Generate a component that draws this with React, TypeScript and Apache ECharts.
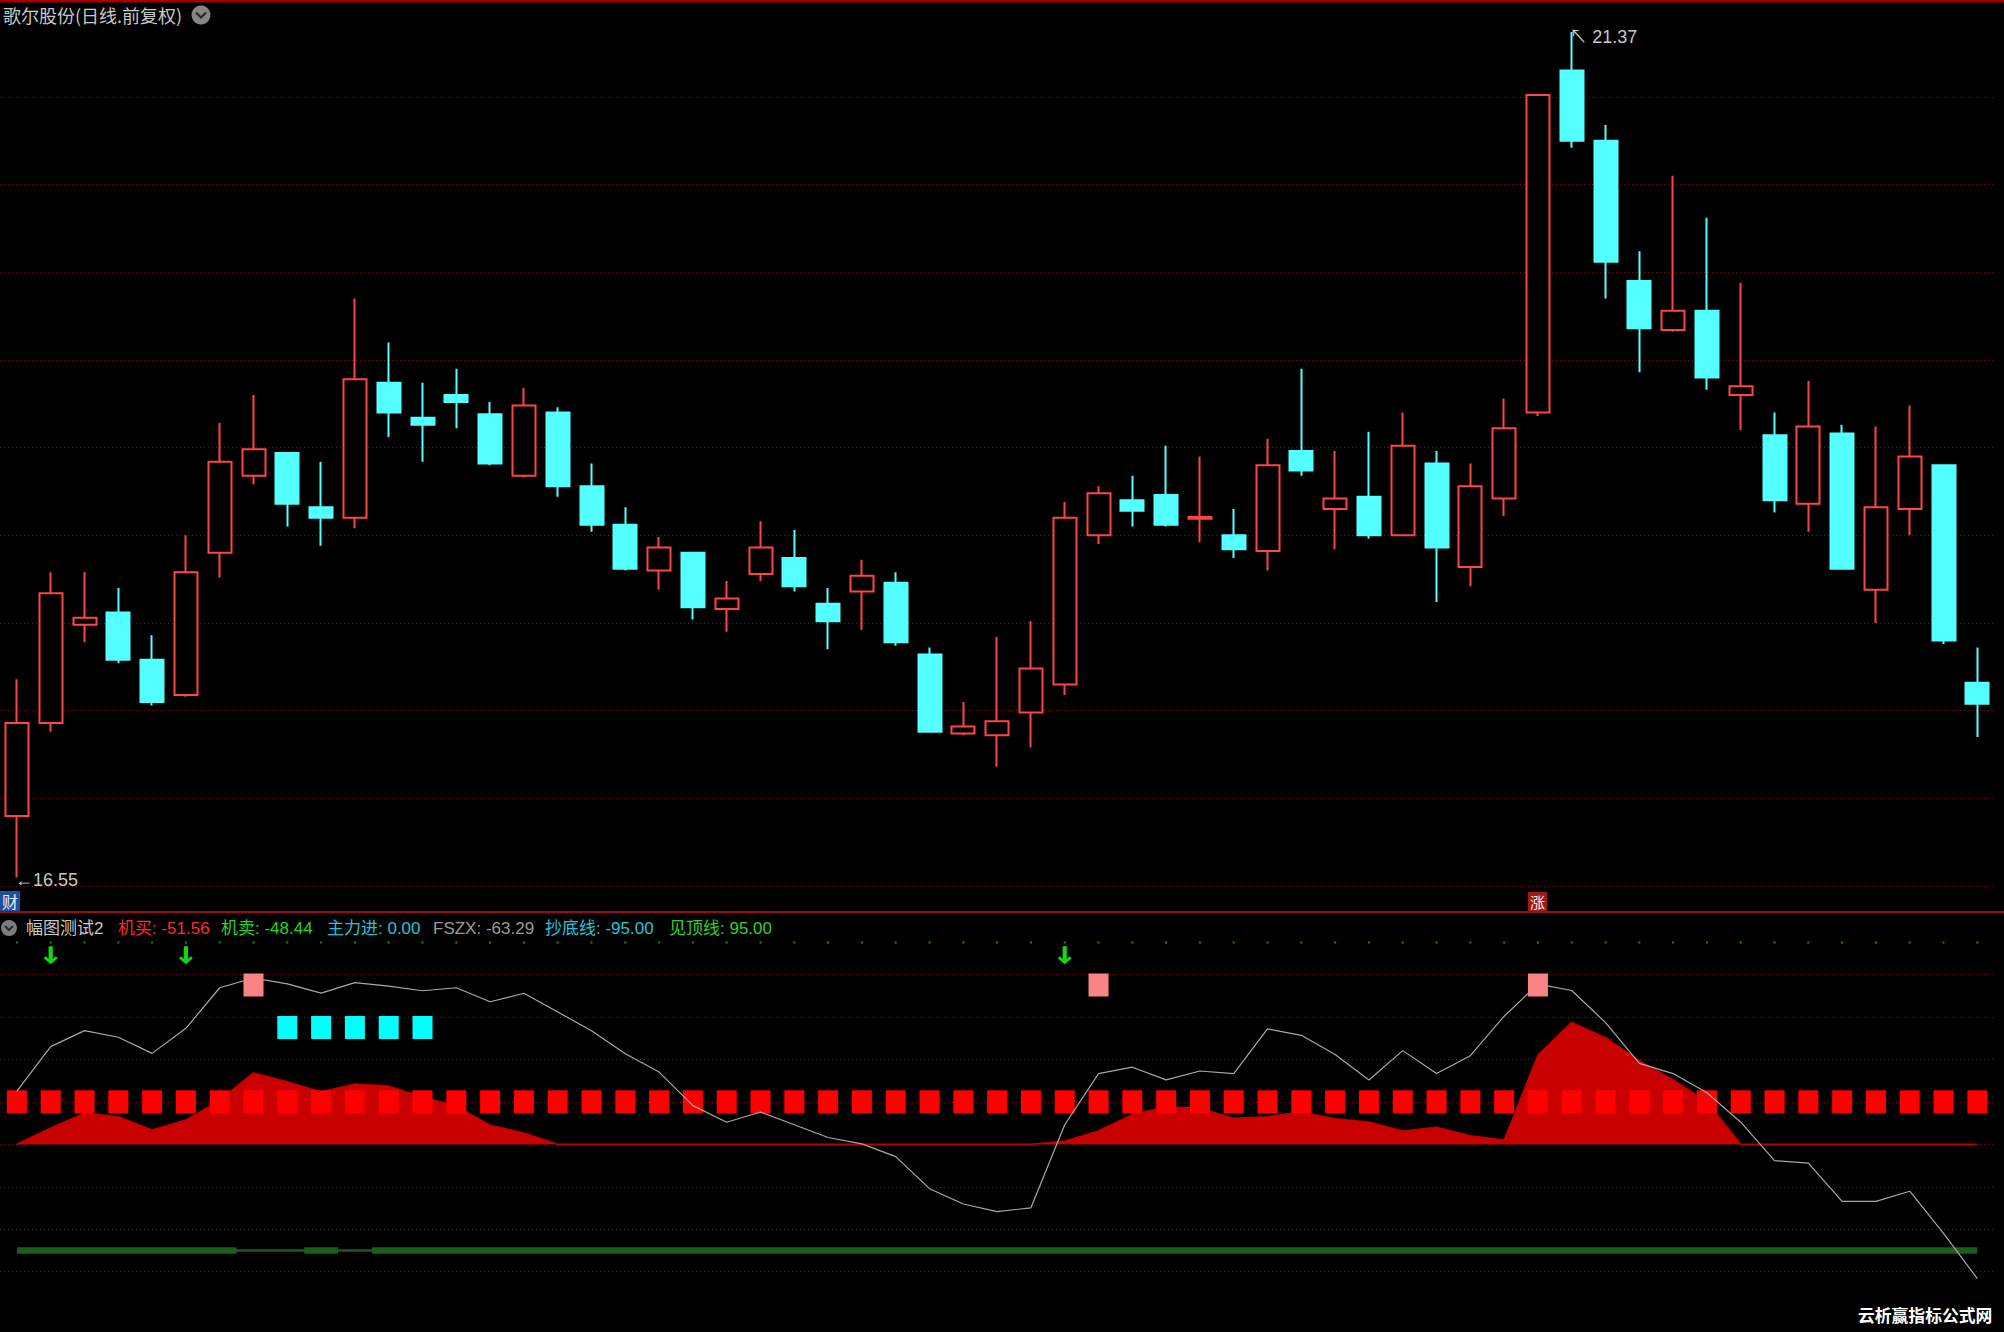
import React, { useEffect, useRef } from "react";
import * as echarts from "echarts";

// ---------- DATA ----------
const categories = Array.from({ length: 59 }, (_, i) => `D${i + 1}`);

// [open, close, low, high]
const opens = [16.90,17.43,17.99,18.06,17.79,17.59,18.40,18.84,18.97,18.66,18.60,19.37,19.17,19.30,19.19,18.84,19.20,18.78,18.56,18.30,18.40,18.08,18.28,18.37,18.11,18.18,18.23,17.82,17.37,17.36,17.49,17.65,18.50,18.70,18.73,18.595,18.50,18.41,18.98,18.65,18.72,18.50,18.91,18.32,18.71,19.20,21.15,20.75,19.95,19.67,19.78,19.30,19.07,18.68,19.08,18.19,18.65,18.90,17.66];
const closes = [17.43,18.17,18.03,17.79,17.55,18.29,18.92,18.99,18.68,18.60,19.39,19.20,19.13,19.26,18.91,19.24,18.78,18.56,18.31,18.43,18.09,18.14,18.43,18.21,18.01,18.27,17.89,17.38,17.41,17.44,17.74,18.60,18.74,18.64,18.56,18.605,18.42,18.90,18.87,18.71,18.50,19.01,18.43,18.78,19.11,21.01,20.75,20.06,19.68,19.78,19.40,19.35,18.70,19.12,18.31,18.66,18.95,17.90,17.54];
const lows = [16.55,17.38,17.89,17.77,17.53,17.58,18.26,18.79,18.55,18.44,18.54,19.06,18.92,19.11,18.90,18.83,18.72,18.52,18.30,18.19,18.02,17.95,18.24,18.18,17.85,17.96,17.87,17.38,17.36,17.18,17.29,17.59,18.45,18.55,18.55,18.46,18.37,18.30,18.84,18.42,18.48,18.50,18.12,18.21,18.61,19.18,20.71,19.85,19.43,19.66,19.33,19.10,18.63,18.52,18.31,18.00,18.50,17.88,17.35];
const highs = [17.68,18.29,18.29,18.20,17.93,18.50,19.14,19.30,18.97,18.92,19.85,19.60,19.37,19.45,19.26,19.34,19.23,18.91,18.66,18.49,18.40,18.24,18.58,18.53,18.20,18.36,18.29,17.86,17.55,17.92,18.01,18.69,18.78,18.84,19.01,18.95,18.65,19.05,19.45,18.98,19.09,19.20,18.98,18.91,19.28,21.01,21.37,20.84,20.12,20.55,20.31,19.94,19.20,19.38,19.13,19.12,19.24,18.90,17.86];

const priceTicks = { min: 16.5, max: 21.45, step: 0.5 };
const lowLabel = "←16.55";
const highLabel = "↖ 21.37";

// sub-panel indicator
const fszx = [25,46,53.5,50.4,42.8,54.6,73.7,78.3,75.5,71.2,76.1,74.5,72.3,73.7,67.1,71.1,62.3,53.5,42.6,34,18.2,10.4,15.2,9.2,3.2,0.2,-5.8,-20.9,-28.1,-31.7,-29.9,9.2,33.3,36.3,30.3,34.5,33.3,54.3,51.3,42.3,30.3,44.1,33.3,41.7,60.3,75.4,72.4,57.3,38.1,33.3,24.3,10.4,-7.7,-8.9,-26.9,-26.9,-22.1,-41.9,-63.29];
const mainIn = [0,7.7,14.7,13,6.7,11.4,20.8,33.6,29.5,24.6,28.4,27.4,22.3,18,9,5.3,0,0,0,0,0,0,0,0,0,0,0,0,0,0,0,1.4,6.3,14,17.7,17,12.3,13,15.2,12,10.5,6.3,8,4,2,42,57.4,50.2,39.4,30.3,20.1,0,0,0,0,0,0,0,0];
const machineBuy = [-51.56,-51.56,-51.56,-51.56,-51.56,-51.56,-51.56,-50.6,-50.6,-51.56,-50.6,-51.56,-51.56,-51.56,-51.56,-51.56,-51.56,-51.56,-51.56,-51.56,-51.56,-51.56,-51.56,-51.56,-51.56,-51.56,-51.56,-51.56,-51.56,-51.56,-51.56,-51.56,-51.56,-51.56,-51.56,-51.56,-51.56,-51.56,-51.56,-51.56,-51.56,-51.56,-51.56,-51.56,-51.56,-51.56,-51.56,-51.56,-51.56,-51.56,-51.56,-51.56,-51.56,-51.56,-51.56,-51.56,-51.56,-51.56,-51.56];
const machineSell = [-48.44,-48.44,-48.44,-48.44,-48.44,-48.44,-48.44,-49.4,-49.4,-48.44,-49.4,-48.44,-48.44,-48.44,-48.44,-48.44,-48.44,-48.44,-48.44,-48.44,-48.44,-48.44,-48.44,-48.44,-48.44,-48.44,-48.44,-48.44,-48.44,-48.44,-48.44,-48.44,-48.44,-48.44,-48.44,-48.44,-48.44,-48.44,-48.44,-48.44,-48.44,-48.44,-48.44,-48.44,-48.44,-48.44,-48.44,-48.44,-48.44,-48.44,-48.44,-48.44,-48.44,-48.44,-48.44,-48.44,-48.44,-48.44,-48.44];
const redLevel = 20;
const topLine = 95;
const pinkIdx = [7, 32, 45];
const pinkLevel = 75;
const cyanIdx = [8, 9, 10, 11, 12];
const cyanLevel = 55;
const arrowIdx = [1, 5, 31];
const arrowLevel = 89;
const subTicks = { min: -80, max: 100, step: 20 };

const title = "歌尔股份(日线.前复权)";
const subHeader = [
  { t: "幅图测试2", c: "#c8c8c8" },
  { t: "机买: -51.56", c: "#ff2a2a" },
  { t: "机卖: -48.44", c: "#2ad42a" },
  { t: "主力进: 0.00", c: "#22c4dc" },
  { t: "FSZX: -63.29", c: "#9a9a9a" },
  { t: "抄底线: -95.00", c: "#22c4dc" },
  { t: "见顶线: 95.00", c: "#2ad42a" },
];
const subHeaderX = [26, 118, 221, 327, 433, 545, 669];
const watermark = "云析赢指标公式网";

const FONT = '"Liberation Sans", "Noto Sans CJK SC", sans-serif';
const CJK = '"Noto Sans CJK SC", "Liberation Sans", sans-serif';

export default function App() {
  const ref = useRef<HTMLDivElement>(null);
  useEffect(() => {
    document.body.style.margin = "0";
    document.body.style.background = "#000";
    const chart = echarts.init(ref.current!, undefined, { renderer: "svg" });
    const candle = opens.map((o, i) => [o, closes[i], lows[i], highs[i]]);
    const bandDiff = machineSell.map((s, i) => +(s - machineBuy[i]).toFixed(2));
    const mark = (idx: number[], v: number) => categories.map((_, i) => (idx.includes(i) ? v : "-"));
    const gridLine = { color: "#7a1a1a", type: [1, 3] as any, width: 1 };
    const axisOff = { axisLine: { show: false }, axisTick: { show: false }, axisLabel: { show: false } };
    const hideText = { show: false };

    const option: any = {
      animation: false,
      backgroundColor: "#000",
      grid: [
        { left: -2.9, width: 1997.15, top: 17.9, height: 868.2 },
        { left: -2.9, width: 1997.15, top: 931.9, height: 382.3 },
      ],
      xAxis: [
        { type: "category", gridIndex: 0, data: categories, boundaryGap: true, ...axisOff, splitLine: hideText },
        { type: "category", gridIndex: 1, data: categories, boundaryGap: true, ...axisOff, splitLine: hideText },
      ],
      yAxis: [
        {
          type: "value", gridIndex: 0, min: priceTicks.min, max: priceTicks.max, interval: priceTicks.step, ...axisOff,
          splitLine: { show: true, showMaxLine: false, lineStyle: gridLine },
        },
        {
          type: "value", gridIndex: 1, min: subTicks.min, max: subTicks.max, interval: subTicks.step, ...axisOff,
          splitLine: { show: true, showMinLine: false, showMaxLine: false, lineStyle: gridLine },
        },
      ],
      series: [
        {
          type: "candlestick", xAxisIndex: 0, yAxisIndex: 0, data: candle, barWidth: 23.5,
          itemStyle: { color: "#000", color0: "#54ffff", borderColor: "#ff4545", borderColor0: "#54ffff", borderWidth: 2 },
          markPoint: {
            symbol: "circle", symbolSize: 1, itemStyle: { color: "rgba(0,0,0,0)" },
            data: [
              {
                coord: [categories[0], lows[0]],
                label: { show: true, formatter: lowLabel, position: [-1.5, 3], align: "left", verticalAlign: "middle", color: "#c8c8c8", fontSize: 18, fontFamily: FONT },
              },
              {
                coord: [categories[46], highs[46]],
                label: { show: true, formatter: highLabel, position: [-2, -3], align: "left", verticalAlign: "top", color: "#c8c8c8", fontSize: 18, fontFamily: FONT },
              },
            ],
          },
        },
        {
          type: "line", xAxisIndex: 1, yAxisIndex: 1, data: machineBuy, stack: "band", stackStrategy: "all", step: "middle", symbol: "none",
          lineStyle: { width: 0, opacity: 0 }, z: 2,
        },
        {
          type: "line", xAxisIndex: 1, yAxisIndex: 1, data: bandDiff, stack: "band", stackStrategy: "all", step: "middle", symbol: "none",
          lineStyle: { width: 0, opacity: 0 }, areaStyle: { color: "#1b5e1b", opacity: 1 }, z: 2,
        },
        {
          type: "line", xAxisIndex: 1, yAxisIndex: 1, data: mainIn, symbol: "none",
          lineStyle: { color: "#c00000", width: 1.5 }, areaStyle: { color: "#c80000", opacity: 1 }, z: 3,
        },
        {
          type: "scatter", xAxisIndex: 1, yAxisIndex: 1, data: categories.map(() => redLevel), symbol: "rect",
          symbolSize: [20, 23], itemStyle: { color: "#ff0000", opacity: 1 }, z: 4,
        },
        {
          type: "scatter", xAxisIndex: 1, yAxisIndex: 1, data: categories.map(() => topLine), symbol: "rect",
          symbolSize: [2, 2], itemStyle: { color: "#1e8a1e", opacity: 1 }, z: 4,
        },
        {
          type: "line", xAxisIndex: 1, yAxisIndex: 1, data: fszx, symbol: "none",
          lineStyle: { color: "#a8a8a8", width: 1.2 }, z: 5,
        },
        {
          type: "scatter", xAxisIndex: 1, yAxisIndex: 1, data: mark(pinkIdx, pinkLevel), symbol: "rect",
          symbolSize: [20, 23], itemStyle: { color: "#fa8484", opacity: 1 }, z: 6,
        },
        {
          type: "scatter", xAxisIndex: 1, yAxisIndex: 1, data: mark(cyanIdx, cyanLevel), symbol: "rect",
          symbolSize: [20, 23], itemStyle: { color: "#00ffff", opacity: 1 }, z: 6,
        },
        {
          type: "scatter", xAxisIndex: 1, yAxisIndex: 1, data: mark(arrowIdx, arrowLevel),
          symbol: "path://M3.5,0H6.5V11.5L8.6,9.2L10,11L5,16.5L0,11L1.4,9.2L3.5,11.5Z",
          symbolSize: [14, 18], itemStyle: { color: "#12d812", opacity: 1 }, z: 6,
        },
      ],
      graphic: [
        { type: "rect", shape: { x: 0, y: 0, width: 2004, height: 2.5 }, style: { fill: "#a00000" }, z: 10 },
        { type: "rect", shape: { x: 0, y: 911, width: 2004, height: 2 }, style: { fill: "#9a1010" }, z: 10 },
        { type: "text", x: 3, y: 15, style: { text: title, fill: "#c8c8c8", font: `18px ${CJK}`, verticalAlign: "middle" }, z: 10 },
        { type: "circle", shape: { cx: 201, cy: 15, r: 9.5 }, style: { fill: "#858585" }, z: 10 },
        { type: "polyline", shape: { points: [[196, 12.5], [201, 17.5], [206, 12.5]] }, style: { stroke: "#2a2a2a", lineWidth: 2.2, fill: null }, z: 11 },
        { type: "rect", shape: { x: 0, y: 891, width: 20, height: 20 }, style: { fill: "#1f4f9f" }, z: 10 },
        { type: "text", x: 10, y: 901, style: { text: "财", fill: "#e6eeff", font: `16px ${CJK}`, align: "center", verticalAlign: "middle" }, z: 11 },
        { type: "rect", shape: { x: 1528, y: 892, width: 19, height: 19 }, style: { fill: "#a01818" }, z: 10 },
        { type: "text", x: 1537.5, y: 901.5, style: { text: "涨", fill: "#f4f4f4", font: `15px ${CJK}`, align: "center", verticalAlign: "middle" }, z: 11 },
        { type: "circle", shape: { cx: 9, cy: 928, r: 8 }, style: { fill: "#7d7d7d" }, z: 10 },
        { type: "polyline", shape: { points: [[5, 926], [9, 930], [13, 926]] }, style: { stroke: "#2a2a2a", lineWidth: 2, fill: null }, z: 11 },
        ...subHeader.map((h, i) => ({
          type: "text", x: subHeaderX[i], y: 928,
          style: { text: h.t, fill: h.c, font: `17px ${FONT}`, verticalAlign: "middle" }, z: 10,
        })),
        { type: "text", x: 1858, y: 1315, style: { text: watermark, fill: "#ffffff", font: `bold 16.8px ${CJK}`, verticalAlign: "middle" }, z: 10 },
      ],
    };
    chart.setOption(option);
    return () => chart.dispose();
  }, []);
  return <div ref={ref} style={{ position: "absolute", left: 0, top: 0, width: 2004, height: 1332 }} />;
}
